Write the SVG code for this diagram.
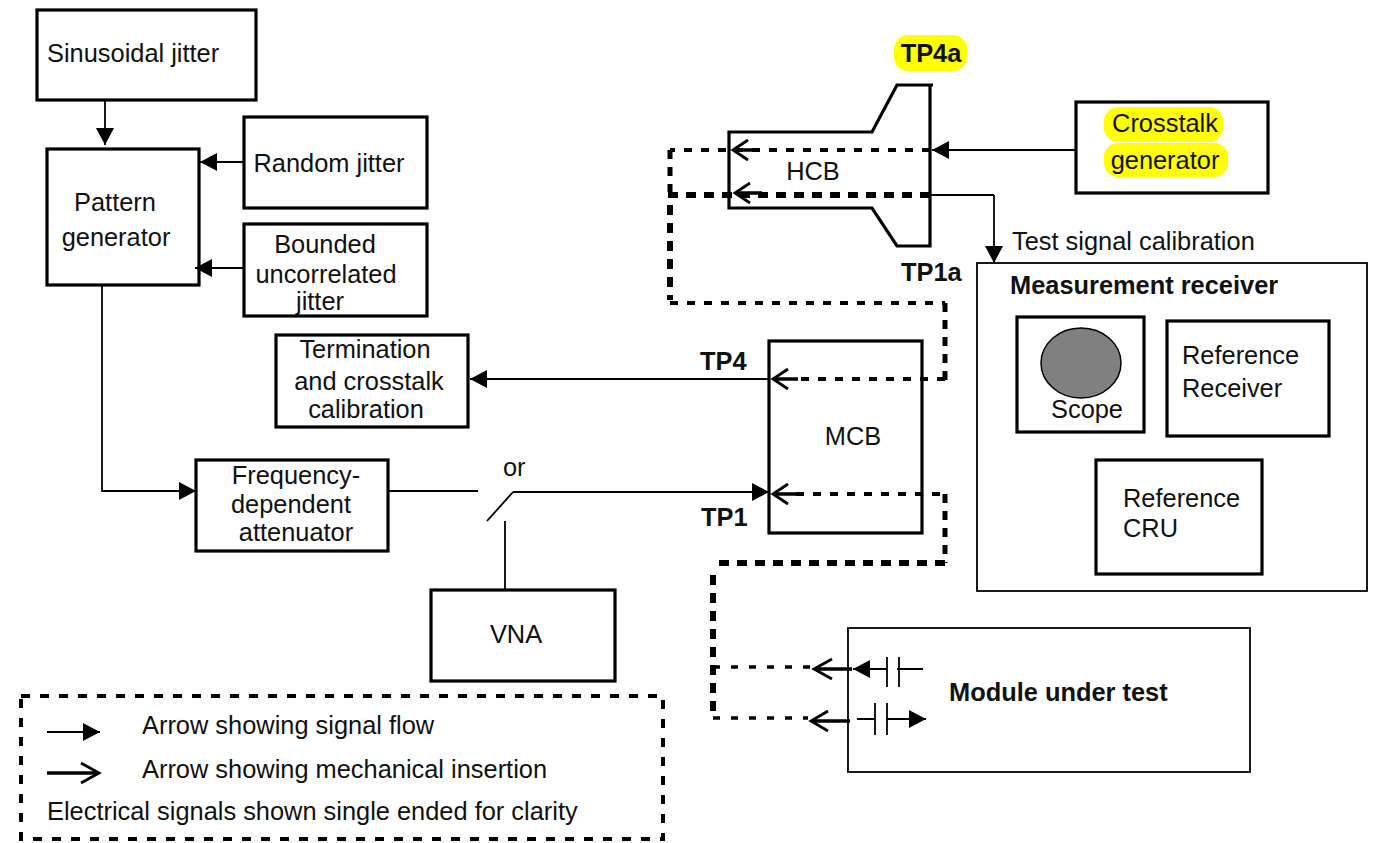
<svg xmlns="http://www.w3.org/2000/svg" width="1378" height="843" viewBox="0 0 1378 843">
<style>
text{font-family:"Liberation Sans",Arial,sans-serif;font-size:25.4px;fill:#111}
.m{text-anchor:middle}
.b{font-weight:bold}
.box{fill:none;stroke:#000;stroke-width:3.2}
.thin{fill:none;stroke:#000;stroke-width:1.8}
.d1{fill:none;stroke:#000;stroke-width:4;stroke-dasharray:8 9}
.d2{fill:none;stroke:#000;stroke-width:6;stroke-dasharray:10 8}
.d3{fill:none;stroke:#000;stroke-width:5;stroke-dasharray:9 8}
.d4{fill:none;stroke:#000;stroke-width:3.5;stroke-dasharray:7 11}
.shaft{fill:none;stroke:#000;stroke-width:3.6}
.mech{fill:none;stroke:#000;stroke-width:2.8}
</style>
<defs>
<marker id="ah" markerUnits="userSpaceOnUse" markerWidth="20" markerHeight="20" refX="17" refY="10" orient="auto"><path d="M0 1L17 10L0 19Z" fill="#000"/></marker>
</defs>
<rect width="1378" height="843" fill="#fff"/>
<g id="highlights" fill="#ffff00">
<rect x="894" y="35" width="73" height="36" rx="14"/>
<rect x="1104" y="107" width="119" height="35" rx="14"/>
<rect x="1104" y="143" width="124" height="34" rx="14"/>
</g>
<g id="sinusoidal-jitter"><rect class="box" x="37" y="10" width="219" height="90"/><text x="47" y="62">Sinusoidal jitter</text></g>
<g id="pattern-generator"><rect class="box" x="47" y="149" width="152" height="136"/><text class="m" x="115" y="211">Pattern</text><text class="m" x="116" y="246">generator</text></g>
<g id="random-jitter"><rect class="box" x="244" y="117" width="183" height="91"/><text class="m" x="329" y="172">Random jitter</text></g>
<g id="bounded-jitter"><rect class="box" x="244" y="224" width="183" height="92"/><text class="m" x="325" y="253">Bounded</text><text class="m" x="326" y="283">uncorrelated</text><text class="m" x="320" y="310">jitter</text></g>
<g id="termination"><rect class="box" x="276" y="335" width="192" height="92"/><text class="m" x="365" y="358">Termination</text><text class="m" x="369" y="390">and crosstalk</text><text class="m" x="366" y="418">calibration</text></g>
<g id="attenuator"><rect class="box" x="196" y="460" width="192" height="91"/><text class="m" x="296" y="484">Frequency-</text><text class="m" x="291" y="513">dependent</text><text class="m" x="296" y="541">attenuator</text></g>
<g id="vna"><rect class="box" x="431" y="590" width="184" height="91"/><text class="m" x="516" y="643">VNA</text></g>
<g id="hcb"><path class="box" d="M933 85H897L872 132H729V208H872L897 246H930V85"/><text class="m" x="813" y="180">HCB</text></g>
<g id="mcb"><rect class="box" x="769" y="341" width="153" height="192"/><text class="m" x="853" y="445">MCB</text></g>
<g id="crosstalk-generator"><rect class="box" x="1076" y="102" width="192" height="91"/><text class="m" x="1165" y="132">Crosstalk</text><text class="m" x="1165" y="169">generator</text></g>
<g id="measurement-receiver"><rect class="thin" x="977" y="263" width="390" height="328"/><text class="b" x="1010" y="294">Measurement receiver</text></g>
<g id="scope"><rect class="box" x="1017" y="317" width="127" height="115"/><ellipse cx="1081" cy="363" rx="40" ry="35" fill="#808080" stroke="#000" stroke-width="1.5"/><text class="m" x="1087" y="418">Scope</text></g>
<g id="reference-receiver"><rect class="box" x="1167" y="321" width="162" height="115"/><text x="1182" y="364">Reference</text><text x="1182" y="397">Receiver</text></g>
<g id="reference-cru"><rect class="box" x="1096" y="460" width="166" height="114"/><text x="1123" y="507">Reference</text><text x="1123" y="537">CRU</text></g>
<g id="module-under-test"><rect class="thin" x="848" y="628" width="402" height="144"/><text class="b" x="949" y="701">Module under test</text></g>
<g id="connectors">
<path class="thin" marker-end="url(#ah)" d="M105 100V145"/>
<path class="thin" marker-end="url(#ah)" d="M244 162H200"/>
<path class="thin" marker-end="url(#ah)" d="M244 268H195"/>
<path class="thin" marker-end="url(#ah)" d="M102 285V491H196"/>
<path class="thin" marker-end="url(#ah)" d="M769 379H470"/>
<path class="thin" d="M388 491H478M487 521L513 492"/>
<path class="thin" marker-end="url(#ah)" d="M513 492H769"/>
<path class="thin" d="M505 521V590"/>
<path class="thin" marker-end="url(#ah)" d="M1076 150H932"/>
<path class="thin" d="M930 195H994"/>
<path class="thin" marker-end="url(#ah)" d="M994 195V263"/>
<path class="d1" d="M930 150H670"/>
<path class="d3" d="M670 150V192"/>
<path class="d2" d="M930 195H666"/>
<path class="d2" d="M670 205V300"/>
<path class="d1" d="M670 303H945"/>
<path class="d3" d="M945 303V380"/>
<path class="d1" d="M945 379H796"/>
<path class="d1" d="M796 494H945"/>
<path class="d3" d="M945 494V563"/>
<path class="d2" d="M945 563H713"/>
<path class="d2" d="M713 575V718"/>
<path class="d4" d="M713 667H812M713 718H808"/>
<path class="shaft" d="M760 150H734M762 193H736M798 379H774M798 494H774M852 669H815M850 721H812"/>
<path class="mech" d="M748 140L733 150L748 160M750 183L735 193L750 203M788 369L773 379L788 389M788 484L773 494L788 504M832 659L814 669L832 679M828 711L811 721L828 731"/>
<path class="thin" marker-end="url(#ah)" d="M887 669H853"/>
<path class="thin" d="M887 657V687M899 657V687M897 669H923"/>
<path class="thin" d="M857 719H875M875 703V735M887 703V735"/>
<path class="thin" marker-end="url(#ah)" d="M887 719H926"/>
</g>
<g id="labels">
<text class="b" x="931" y="62" text-anchor="middle">TP4a</text>
<text class="b" x="901" y="281">TP1a</text>
<text class="b" x="700" y="370">TP4</text>
<text class="b" x="701" y="526">TP1</text>
<text x="1012" y="250">Test signal calibration</text>
<text x="503" y="476">or</text>
</g>
<g id="legend">
<rect x="21" y="696" width="642" height="143" fill="none" stroke="#000" stroke-width="4" stroke-dasharray="9 10"/>
<path class="thin" marker-end="url(#ah)" d="M47 732H100"/>
<path class="shaft" d="M47 773H98"/>
<path class="mech" d="M81 763L99 773L81 783"/>
<text x="142" y="734">Arrow showing signal flow</text>
<text x="142" y="778">Arrow showing mechanical insertion</text>
<text x="47" y="820">Electrical signals shown single ended for clarity</text>
</g>
</svg>
